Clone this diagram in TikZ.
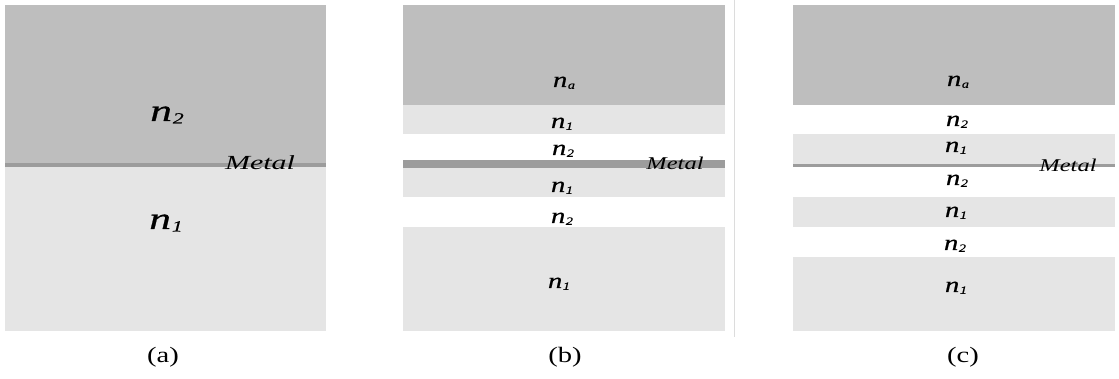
\documentclass[tikz,border=0pt]{standalone}
\usepackage{fontspec}
\setmainfont{Liberation Serif}
\newfontfamily\labelfont[FakeBold=0.5]{Liberation Serif}
\usepackage{graphicx}

\definecolor{darklayer}{HTML}{BEBEBE}
\definecolor{lightlayer}{HTML}{E5E5E5}
\definecolor{metalfilm}{HTML}{9C9C9C}
\definecolor{divider}{HTML}{DCDCDC}

% refractive-index label: italic n with a small italic index, widened
\newcommand{\nidx}[2]{\scalebox{#2}[1]{\labelfont\itshape n\kern0.02em\raisebox{-0.08em}{\scalebox{0.5}{#1}}}}
\newcommand{\widetext}[2]{\scalebox{#2}[1]{#1}}

\tikzset{
  biglab/.style={anchor=base, inner sep=0pt, font=\fontsize{31}{31}\selectfont},
  lab/.style={anchor=base, inner sep=0pt, font=\fontsize{22}{22}\selectfont},
  metallab/.style={anchor=base, inner sep=0pt, font=\fontsize{#1}{#1}\selectfont\itshape},
  caption/.style={anchor=base, inner sep=0pt, font=\fontsize{22}{22}\selectfont},
}

\begin{document}
\begin{tikzpicture}[x=1pt,y=-1pt]
\useasboundingbox (0,0) rectangle (1119,379);
\fill[white] (0,0) rectangle (1119,379);

% ---------- (a) single metal interface ----------
\fill[darklayer]  (5,5)     rectangle (326,164);
\fill[lightlayer] (5,165)   rectangle (326,331);
\fill[metalfilm]  (5,163.3) rectangle (326,166.7);
\node[biglab] (a-n2) at (167,121) {\nidx{2}{1.4}};
\node[biglab] (a-n1) at (166,229) {\nidx{1}{1.4}};
\node[metallab=20] (a-metal) at (260,170) {\widetext{Metal}{1.5}};
\node[caption] (a-cap) at (163,362) {\widetext{(a)}{1.3}};

% ---------- (b) metal film between n2 and n1 ----------
\fill[darklayer]  (403,5)   rectangle (725,105);
\fill[lightlayer] (403,105) rectangle (725,134);
\fill[lightlayer] (403,168) rectangle (725,197);
\fill[lightlayer] (403,227) rectangle (725,331);
\fill[metalfilm]  (403,160) rectangle (725,168);
\node[lab] (b-na)  at (564,87)  {\nidx{a}{1.3}};
\node[lab] (b-n1a) at (562,128) {\nidx{1}{1.3}};
\node[lab] (b-n2a) at (563,155) {\nidx{2}{1.3}};
\node[lab] (b-n1b) at (562,192) {\nidx{1}{1.3}};
\node[lab] (b-n2b) at (562,223) {\nidx{2}{1.3}};
\node[lab] (b-n1c) at (559,288) {\nidx{1}{1.3}};
\node[metallab=18] (b-metal) at (675,170) {\widetext{Metal}{1.36}};
\node[caption] (b-cap) at (565,362) {\widetext{(b)}{1.3}};

% thin separator right of (b)
\draw[divider, line width=0.8pt] (734,0) -- (734,337);

% ---------- (c) metal film inside the first n1 layer ----------
\fill[darklayer]  (793,5)   rectangle (1115,105);
\fill[lightlayer] (793,134) rectangle (1115,164);
\fill[lightlayer] (793,197) rectangle (1115,227);
\fill[lightlayer] (793,257) rectangle (1115,331);
\fill[metalfilm]  (793,163.8) rectangle (1115,166.8);
\node[lab] (c-na)  at (958,86)  {\nidx{a}{1.3}};
\node[lab] (c-n2a) at (957,126) {\nidx{2}{1.3}};
\node[lab] (c-n1a) at (956,152) {\nidx{1}{1.3}};
\node[lab] (c-n2b) at (957,185) {\nidx{2}{1.3}};
\node[lab] (c-n1b) at (956,217) {\nidx{1}{1.3}};
\node[lab] (c-n2c) at (955,250) {\nidx{2}{1.3}};
\node[lab] (c-n1c) at (956,292) {\nidx{1}{1.3}};
\node[metallab=18] (c-metal) at (1068,172) {\widetext{Metal}{1.36}};
\node[caption] (c-cap) at (963,362) {\widetext{(c)}{1.3}};
\end{tikzpicture}
\end{document}
